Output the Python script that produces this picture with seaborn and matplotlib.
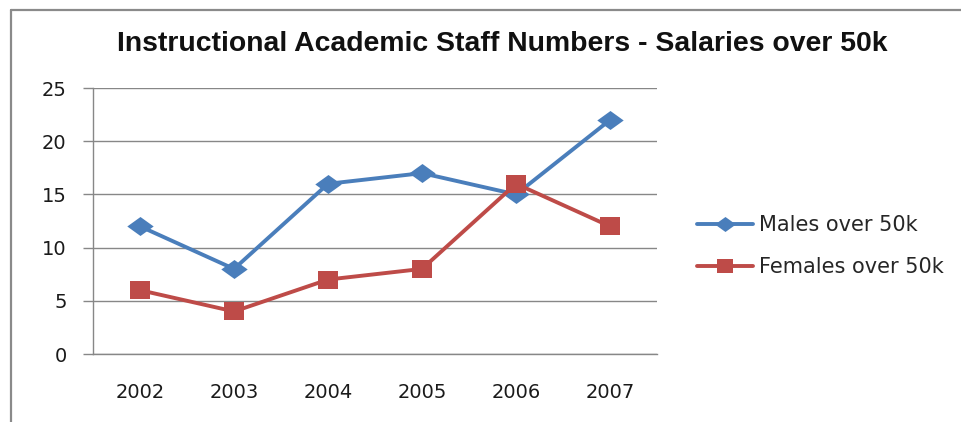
import matplotlib
matplotlib.use("Agg")
import matplotlib.pyplot as plt
import seaborn as sns
import pandas as pd
from matplotlib.lines import Line2D
from matplotlib.path import Path

years = ["2002", "2003", "2004", "2005", "2006", "2007"]
males = [12, 8, 16, 17, 15, 22]
females = [6, 4, 7, 8, 16, 12]
series_names = ["Males over 50k", "Females over 50k"]
title = "Instructional Academic Staff Numbers - Salaries over 50k"

df = pd.DataFrame({
    "year": years * 2,
    "value": males + females,
    "series": [series_names[0]] * len(years) + [series_names[1]] * len(years),
})

sns.set_style("white")
plt.rcParams["font.family"] = ["DejaVu Sans"]

# slightly wide markers, as in the (horizontally stretched) reference
diamond = Path([(-1, 0), (0, 0.72), (1, 0), (0, -0.72), (-1, 0)],
               [Path.MOVETO, Path.LINETO, Path.LINETO, Path.LINETO, Path.CLOSEPOLY])
rect = Path([(-1, -0.85), (1, -0.85), (1, 0.85), (-1, 0.85), (-1, -0.85)],
            [Path.MOVETO, Path.LINETO, Path.LINETO, Path.LINETO, Path.CLOSEPOLY])

blue = "#4A7EBB"
red = "#BE4B48"

fig = plt.figure(figsize=(9.61, 4.22), dpi=100)
ax = fig.add_axes([0.0968, 0.1611, 0.5869, 0.6303])

palette = {series_names[0]: blue, series_names[1]: red}
markers = {series_names[0]: diamond, series_names[1]: rect}
sns.lineplot(data=df, x="year", y="value", hue="series", style="series",
             palette=palette, markers=markers, dashes=False, linewidth=2.8,
             markeredgewidth=0, ax=ax, zorder=3, legend=False)

lines = ax.get_lines()
if len(lines) >= 2:
    lines[0].set_markersize(19)
    lines[1].set_markersize(15)

ax.set_xlim(-0.5, 5.5)
ax.set_ylim(0, 25)
ax.set_yticks([0, 5, 10, 15, 20, 25])
ax.set_xticks(range(len(years)))
ax.set_xticklabels(years)
ax.set_xlabel("")
ax.set_ylabel("")

grid_c = "#878787"
ax.yaxis.grid(True, color=grid_c, linewidth=1.0)
ax.xaxis.grid(False)
ax.set_axisbelow(True)
for s in ["top", "right"]:
    ax.spines[s].set_visible(False)
for s in ["left", "bottom"]:
    ax.spines[s].set_color(grid_c)
    ax.spines[s].set_linewidth(1.0)

ax.tick_params(axis="x", which="major", length=0, pad=21, labelsize=14, labelcolor="#1a1a1a")
ax.set_xticks([i - 0.5 for i in range(len(years) + 1)], minor=True)
ax.tick_params(axis="x", which="minor", length=7, color=grid_c, width=1.0, direction="out")
ax.tick_params(axis="y", length=7, color=grid_c, width=1.0, direction="out", pad=12,
               labelsize=14, labelcolor="#1a1a1a", left=True)

t = fig.text(0.523, 0.896, title, ha="center", va="center", fontsize=16,
             fontweight="bold", family=["Liberation Sans", "DejaVu Sans"], color="#111111")
# fit title width to the reference (~770 px)
fig.canvas.draw()
w = t.get_window_extent().width
if w > 0:
    t.set_fontsize(16 * 770.0 / w)

handles = [
    Line2D([0], [0], color=blue, lw=2.8, marker=diamond, markersize=15, markeredgewidth=0),
    Line2D([0], [0], color=red, lw=2.8, marker=rect, markersize=12, markeredgewidth=0),
]
ax.legend(handles, series_names, loc="center left", bbox_to_anchor=(1.071, 0.406),
          frameon=False, fontsize=15, handlelength=2.7, handletextpad=0.25,
          labelspacing=1.05, borderaxespad=0, borderpad=0)

# chart frame (partial, as in the cropped reference)
fig.add_artist(Line2D([0.0115, 0.0115], [0.0, 0.976], transform=fig.transFigure,
                      color="#8a8a8a", lw=1.6))
fig.add_artist(Line2D([0.0115, 1.0], [0.976, 0.976], transform=fig.transFigure,
                      color="#8a8a8a", lw=1.6))

fig.savefig("out.png", dpi=100)
